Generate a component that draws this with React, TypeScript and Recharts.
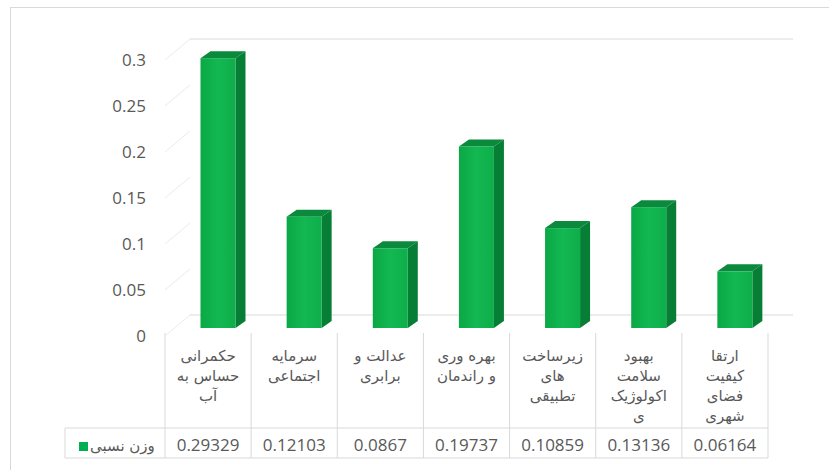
import React from 'react';
import { BarChart, Bar, XAxis, YAxis, CartesianGrid } from 'recharts';

const categories = [
  'حکمرانی\nحساس به\nآب',
  'سرمایه\nاجتماعی',
  'عدالت و\nبرابری',
  'بهره وری\nو راندمان',
  'زیرساخت\nهای\nتطبیقی',
  'بهبود\nسلامت\nاکولوژیک\nی',
  'ارتقا\nکیفیت\nفضای\nشهری',
];
const weights = [0.29329, 0.12103, 0.0867, 0.19737, 0.10859, 0.13136, 0.06164];
const yTicks = [0, 0.05, 0.1, 0.15, 0.2, 0.25, 0.3];
const seriesName = 'وزن نسبی';

const data = categories.map((name, i) => ({ name, value: weights[i] }));

const W = 829;
const H = 470;
const LEFT = 165;
const RIGHT = 61;
const TOP = 60;
const BOTTOM = 134;
const COL_W = (W - LEFT - RIGHT) / categories.length;
// depth of the back wall and of the bars
const WALL_DX = 25;
const WALL_DY = 21;
const BAR_DX = 9.5;
const BAR_DY = 8;
const SIDE_X = 10;
const SIDE_Y = 7;

const GRID = '#d9d9d9';
const TEXT = '#595959';
const NUM_FONT = '"Open Sans", sans-serif';
const FA_FONT = '"DejaVu Sans", sans-serif';

function Bar3D(props: any) {
  const { x, y, width, height } = props;
  if (height == null || width == null) return null;
  const fx = x + BAR_DX;
  const fy = y - BAR_DY;
  const r = fx + width;
  const b = fy + height;
  return (
    <g>
      <polygon
        points={`${fx},${fy} ${fx + SIDE_X},${fy - SIDE_Y} ${r + SIDE_X},${fy - SIDE_Y} ${r},${fy}`}
        fill="#0b8a3d"
      />
      <polygon
        points={`${r},${fy} ${r + SIDE_X},${fy - SIDE_Y} ${r + SIDE_X},${b - SIDE_Y} ${r},${b}`}
        fill="#077e36"
      />
      <rect x={fx} y={fy} width={width} height={height} fill="url(#barFront)" />
    </g>
  );
}

function YTick(props: any) {
  const { x, y, payload } = props;
  return (
    <g>
      <line x1={LEFT} y1={y} x2={LEFT + WALL_DX} y2={y - WALL_DY} stroke="#ebebeb" />
      <text x={x} y={y} dy={6} textAnchor="end" fill={TEXT} fontSize={17} fontFamily={NUM_FONT}>
        {payload.value}
      </text>
    </g>
  );
}

function TableTick(props: any) {
  const { x, y, payload, index } = props;
  const x0 = x - COL_W / 2;
  const lines = String(payload.value).split('\n');
  const last = index === categories.length - 1;
  const rowY = y + 92;
  const endY = y + 122;
  return (
    <g>
      <line x1={x0} y1={y - 3} x2={x0} y2={endY} stroke={GRID} />
      {last && <line x1={x0 + COL_W} y1={y - 3} x2={x0 + COL_W} y2={endY} stroke={GRID} />}
      <line x1={x0} y1={rowY} x2={x0 + COL_W} y2={rowY} stroke={GRID} />
      <line x1={x0} y1={endY} x2={x0 + COL_W} y2={endY} stroke={GRID} />
      {lines.map((t, i) => (
        <text
          key={i}
          x={x}
          y={y + 25 + i * 20}
          textAnchor="middle"
          fill={TEXT}
          fontSize={15}
          fontFamily={FA_FONT}
        >
          {t}
        </text>
      ))}
      <text x={x} y={endY - 7} textAnchor="middle" fill={TEXT} fontSize={17} fontFamily={NUM_FONT}>
        {String(weights[index])}
      </text>
      {index === 0 && (
        <g>
          <line x1={x0 - 100} y1={rowY} x2={x0} y2={rowY} stroke={GRID} />
          <line x1={x0 - 100} y1={endY} x2={x0} y2={endY} stroke={GRID} />
          <line x1={x0 - 100} y1={rowY} x2={x0 - 100} y2={endY} stroke={GRID} />
          <rect x={x0 - 86} y={rowY + 14} width={9} height={9} fill="#00b050" />
          <text x={x0 - 75} y={endY - 7} textAnchor="start" fill={TEXT} fontSize={15} fontFamily={FA_FONT}>
            {seriesName}
          </text>
        </g>
      )}
    </g>
  );
}

export default function App() {
  return (
    <div style={{ position: 'absolute', left: 0, top: 0, width: W, height: H, background: '#fff', overflow: 'hidden' }}>
      <div
        style={{
          position: 'absolute',
          left: 10,
          top: 7,
          width: W,
          height: H,
          border: '1px solid #d9d9d9',
        }}
      />
      {/* back wall grid */}
      <div style={{ position: 'absolute', left: WALL_DX, top: -WALL_DY }}>
        <BarChart width={W} height={H} data={data} margin={{ top: TOP, right: RIGHT, bottom: BOTTOM, left: LEFT }}>
          <CartesianGrid vertical={false} stroke={GRID} strokeWidth={1.2} />
          <XAxis dataKey="name" hide />
          <YAxis domain={[0, 0.3]} ticks={yTicks} hide />
        </BarChart>
      </div>
      <div style={{ position: 'absolute', left: 0, top: 0 }}>
        <BarChart
          width={W}
          height={H}
          data={data}
          margin={{ top: TOP, right: RIGHT, bottom: BOTTOM - 122, left: LEFT - 60 }}
        >
          <defs>
            <linearGradient id="barFront" x1="0" y1="0" x2="1" y2="0">
              <stop offset="0%" stopColor="#0aa845" />
              <stop offset="50%" stopColor="#13b852" />
              <stop offset="100%" stopColor="#0eae4a" />
            </linearGradient>
          </defs>
          <XAxis
            dataKey="name"
            height={122}
            axisLine={false}
            tickLine={false}
            tickSize={0}
            tickMargin={0}
            interval={0}
            tick={<TableTick />}
          />
          <YAxis
            width={60}
            domain={[0, 0.3]}
            ticks={yTicks}
            axisLine={false}
            tickLine={false}
            tickSize={0}
            tickMargin={19}
            tick={<YTick />}
          />
          <Bar dataKey="value" name={seriesName} barSize={35} shape={<Bar3D />} isAnimationActive={false} />
        </BarChart>
      </div>
    </div>
  );
}
